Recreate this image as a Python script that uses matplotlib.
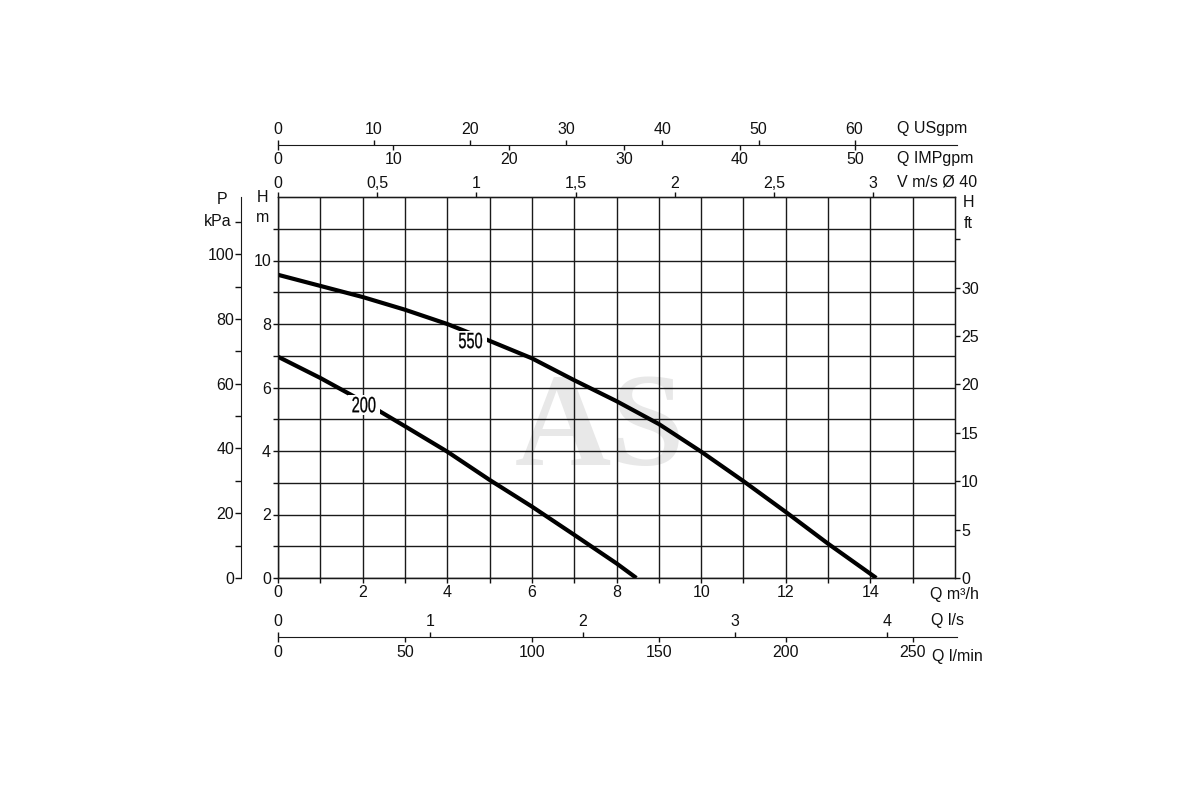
import numpy as np
import matplotlib
matplotlib.use('Agg')
import matplotlib.pyplot as plt
from matplotlib.textpath import TextPath
from matplotlib.patches import PathPatch, Rectangle
from matplotlib.transforms import Affine2D, ScaledTranslation
from matplotlib.font_manager import FontProperties

# pump curves, head H (m) against flow Q (m3/h)
flow_550 = [0, 1, 2, 3, 4, 5, 6, 7, 8, 9, 10, 11, 12, 13, 14.14]
head_550 = [9.55, 9.2, 8.85, 8.45, 8.0, 7.47, 6.92, 6.23, 5.57, 4.85, 3.98, 3.05, 2.08, 1.08, 0]
flow_200 = [0, 1, 2, 3, 4, 5, 6, 7, 8, 8.47]
head_200 = [6.97, 6.3, 5.57, 4.78, 3.98, 3.09, 2.25, 1.36, 0.46, 0]
curve_names = ['550', '200']
label_pos = [(4.55, 7.48), (2.03, 5.46)]

# secondary scales
usgpm_ticks = [0, 10, 20, 30, 40, 50, 60]
impgpm_ticks = [0, 10, 20, 30, 40, 50]
velocity_ticks = [0, 0.5, 1, 1.5, 2, 2.5, 3]
velocity_labels = ['0', '0,5', '1', '1,5', '2', '2,5', '3']
ls_ticks = [0, 1, 2, 3, 4]
lmin_ticks = [0, 50, 100, 150, 200, 250]
kpa_ticks = [0, 20, 40, 60, 80, 100]
ft_ticks = [0, 5, 10, 15, 20, 25, 30]

# m3/h per unit
US = 0.22712
IMP = 0.27277
VEL = 4.69
LS = 3.6
LMIN = 0.06
KPA_PER_M = 9.80665
FT_PER_M = 3.28084

QMAX, HMAX = 16, 12
ink = '#111111'
fs = 11.5

plt.rcParams['font.family'] = ['Liberation Sans', 'DejaVu Sans']
plt.rcParams['text.color'] = ink

fig = plt.figure(figsize=(12, 8), dpi=100)
W, H = 1200, 800
left, right = 278 / W, 955 / W
bottom, top = 1 - 578 / H, 1 - 197 / H

ax = fig.add_axes([left, bottom, right - left, top - bottom])
ax.set_xlim(0, QMAX)
ax.set_ylim(0, HMAX)
ax.set_xticks(range(0, 15, 2))
ax.set_xticks(range(1, 16, 2), minor=True)
ax.set_yticks(range(0, 11, 2))
ax.set_yticks([1, 3, 5, 7, 9, 11], minor=True)
ax.grid(True, which='both', color='#1a1a1a', linewidth=1.0)
ax.tick_params(which='both', direction='out', length=3.5, width=1, colors=ink,
               labelsize=fs, pad=1.5)
for s in ax.spines.values():
    s.set_color('#1a1a1a')
    s.set_linewidth(1.0)

ax.text(0.5, 0.46, 'AS', transform=fig.transFigure, ha='center', va='center',
        fontsize=96, fontweight='bold', color='#e8e8e8',
        family=['Liberation Serif', 'DejaVu Serif'], zorder=0)

ax.plot(flow_550, head_550, color='black', linewidth=3, solid_capstyle='butt', zorder=3)
ax.plot(flow_200, head_200, color='black', linewidth=3, solid_capstyle='butt', zorder=3)

# narrow curve labels on a white patch
fp = FontProperties(family='Liberation Sans')
for name, (qx, hy) in zip(curve_names, label_pos):
    tp = TextPath((0, 0), name, size=22, prop=fp)
    ext = tp.get_extents()
    cx, cy = (ext.x0 + ext.x1) / 2, (ext.y0 + ext.y1) / 2
    anchor = ScaledTranslation(qx, hy, ax.transData)
    ax.add_patch(Rectangle((-16, -10), 32, 20, transform=anchor,
                           facecolor='white', edgecolor='none', zorder=3.5))
    glyphs = Affine2D().translate(-cx, -cy).scale(0.66, 1.0) + anchor
    ax.add_patch(PathPatch(tp, transform=glyphs, facecolor='black',
                           edgecolor='black', linewidth=0.2, zorder=4))

# velocity scale on the top edge
sec_v = ax.secondary_xaxis('top', functions=(lambda q: q / VEL, lambda v: v * VEL))
sec_v.set_xticks(velocity_ticks, labels=velocity_labels)
sec_v.tick_params(direction='out', length=3.5, width=1, colors=ink, labelsize=fs, pad=1)
sec_v.spines['top'].set_color('#1a1a1a')

# head in feet on the right
axr = ax.twinx()
axr.set_ylim(0, HMAX * FT_PER_M)
axr.set_yticks(ft_ticks)
axr.set_yticks([35], minor=True)
axr.tick_params(which='both', direction='out', length=3.5, width=1, colors=ink,
                labelsize=fs, pad=1)
for s in axr.spines.values():
    s.set_color('#1a1a1a')

# pressure scale on the left
ax_p = fig.add_axes([241 / W, bottom, 0.0001, top - bottom])
ax_p.set_ylim(0, HMAX * KPA_PER_M)
ax_p.set_yticks(kpa_ticks)
ax_p.set_yticks(range(10, 120, 20), minor=True)
ax_p.tick_params(which='both', direction='out', length=4, width=1, colors=ink,
                 labelsize=fs, pad=1)
ax_p.set_xticks([])
ax_p.patch.set_visible(False)
for k in ['top', 'right', 'bottom']:
    ax_p.spines[k].set_visible(False)
ax_p.spines['left'].set_color('#1a1a1a')

# US / IMP gallons line above the chart
ax_g = fig.add_axes([left, 1 - 145 / H, right - left + 2 / W, 0.0001])
ax_g.set_xlim(0, (QMAX + 2 / 42.35) / IMP)
ax_g.set_xticks(impgpm_ticks)
ax_g.tick_params(direction='out', length=3.5, width=1, colors=ink, labelsize=fs, pad=1.5)
ax_g.set_yticks([])
ax_g.patch.set_visible(False)
for k in ['top', 'right', 'left']:
    ax_g.spines[k].set_visible(False)
ax_g.spines['bottom'].set_color('#1a1a1a')
sec_g = ax_g.secondary_xaxis('top', functions=(lambda x: x * IMP / US, lambda x: x * US / IMP))
sec_g.set_xticks(usgpm_ticks)
sec_g.tick_params(direction='out', length=3.5, width=1, colors=ink, labelsize=fs, pad=2)
sec_g.spines['top'].set_visible(False)

# l/s and l/min line below the chart
ax_l = fig.add_axes([left, 1 - 637 / H, right - left + 2 / W, 0.0001])
ax_l.set_xlim(0, (QMAX + 2 / 42.35) / LMIN)
ax_l.set_xticks(lmin_ticks)
ax_l.tick_params(direction='out', length=3.5, width=1, colors=ink, labelsize=fs, pad=2)
ax_l.set_yticks([])
ax_l.patch.set_visible(False)
for k in ['top', 'right', 'left']:
    ax_l.spines[k].set_visible(False)
ax_l.spines['bottom'].set_color('#1a1a1a')
sec_l = ax_l.secondary_xaxis('top', functions=(lambda x: x * LMIN / LS, lambda x: x * LS / LMIN))
sec_l.set_xticks(ls_ticks)
sec_l.tick_params(direction='out', length=3.5, width=1, colors=ink, labelsize=fs, pad=2)
sec_l.spines['top'].set_visible(False)


# unit captions
def cap(x, y, s, ha='left'):
    fig.text(x / W, 1 - y / H, s, ha=ha, va='center', fontsize=fs, color=ink)


cap(222, 199, 'P', 'center')
cap(218, 221, 'kPa', 'center')
cap(263, 198, 'H', 'center')
cap(263, 218, 'm', 'center')
cap(968, 203, 'H', 'center')
cap(968, 224, 'ft', 'center')
cap(897, 128, 'Q USgpm')
cap(897, 159, 'Q IMPgpm')
cap(897, 182, 'V m/s Ø 40')
cap(930, 595, 'Q m³/h')
cap(931, 620, 'Q l/s')
cap(932, 656, 'Q l/min')

fig.savefig('out.png', dpi=100, facecolor='white')
